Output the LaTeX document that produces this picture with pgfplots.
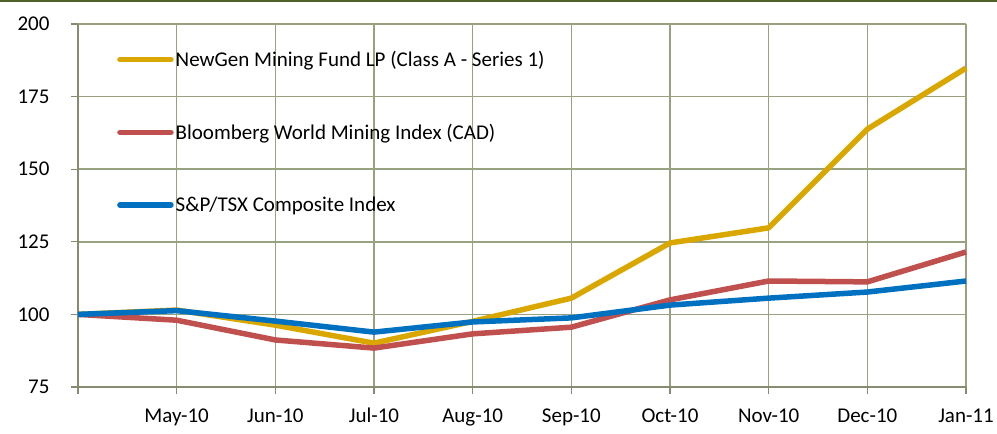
\documentclass[border=0pt]{standalone}
\usepackage{fontspec}
\setmainfont{Carlito}
\usepackage{pgfplots}
\pgfplotsset{compat=1.18}
\definecolor{cgold}{HTML}{DAA700}
\definecolor{cred}{HTML}{C0504D}
\definecolor{cblue}{HTML}{0070C0}
\definecolor{cgrid}{HTML}{98A180}
\definecolor{caxis}{HTML}{858C70}
\definecolor{ctop}{HTML}{4F6228}
\begin{document}
\begin{tikzpicture}
\useasboundingbox (-78pt,-47pt) rectangle (919pt,387pt);
\fill[ctop] (-78pt,385pt) rectangle (919pt,387pt);
\begin{axis}[
  scale only axis,
  width=888pt, height=363pt,
  xmin=0, xmax=9, ymin=75, ymax=200,
  xtick={0,...,9},
  xticklabels={,May-10,Jun-10,Jul-10,Aug-10,Sep-10,Oct-10,Nov-10,Dec-10,Jan-11},
  ytick={75,100,...,200},
  font=\fontsize{21}{25}\selectfont,
  /pgf/number format/assume math mode=true,
  tick align=outside,
  major tick length=7pt,
  tick style={caxis, line width=1.3pt},
  axis x line*=bottom, axis y line*=left,
  axis line style={caxis, line width=1.6pt},
  grid=major,
  major grid style={cgrid, line width=1.5pt},
  yticklabel style={xshift=-18pt},
  xticklabel style={yshift=-17pt, text height=1.6ex, text depth=0.5ex},
  clip=false,
  legend cell align=left,
  legend style={draw=none, fill=none, at={(39pt,336pt)}, anchor=north west,
    row sep=56pt, inner sep=0pt,
    nodes={inner xsep=2pt, inner ysep=0pt}},
  legend image code/.code={\draw[#1, line cap=round] (0pt,0pt) -- (51pt,0pt);},
  every axis plot/.append style={line width=5.5pt, line join=round},
]
\addplot[cgold] coordinates {(0,100) (1,101.5) (2,96.3) (3,90.1) (4,97.6) (5,105.6) (6,124.6) (7,129.8) (8,163.8) (9,184.8)};
\addplot[cred] coordinates {(0,100) (1,98.0) (2,91.2) (3,88.4) (4,93.3) (5,95.6) (6,105.0) (7,111.5) (8,111.2) (9,121.5)};
\addplot[cblue] coordinates {(0,100) (1,101.3) (2,97.7) (3,93.9) (4,97.4) (5,98.8) (6,103.2) (7,105.6) (8,107.7) (9,111.5)};
\legend{NewGen Mining Fund LP (Class A - Series 1),Bloomberg World Mining Index (CAD),S\&P/TSX Composite Index}
\end{axis}
\end{tikzpicture}
\end{document}
